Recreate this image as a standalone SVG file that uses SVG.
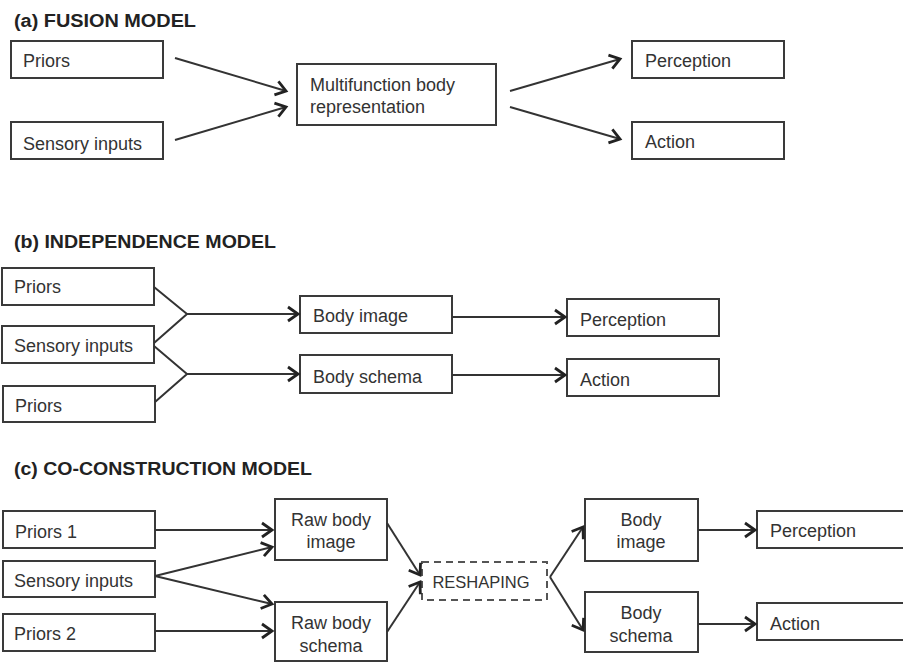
<svg xmlns="http://www.w3.org/2000/svg" width="903" height="662" viewBox="0 0 903 662">
<style>
.box{fill:#fff;stroke:#3a3a3a;stroke-width:2}
.dash{fill:#fff;stroke:#555;stroke-width:2;stroke-dasharray:7 5}
.t{font-family:"Liberation Sans",Arial,sans-serif;font-size:18px;fill:#333}
.c{text-anchor:middle}
.title{font-family:"Liberation Sans",Arial,sans-serif;font-size:18px;font-weight:bold;fill:#222}
.ln{fill:none;stroke:#333;stroke-width:2}
.ar{fill:none;stroke:#333;stroke-width:2;marker-end:url(#ah)}
</style>
<defs>
<marker id="ah" markerUnits="userSpaceOnUse" viewBox="-12 -8 14 16" refX="0" refY="0" markerWidth="14" markerHeight="16" orient="auto" overflow="visible">
<path d="M-10,-7 L0,0 L-10,7" fill="none" stroke="#222" stroke-width="2.8" stroke-linejoin="miter"/>
</marker>
</defs>
<rect width="903" height="662" fill="#fff"/>

<text class="title" x="14" y="27" textLength="182" lengthAdjust="spacingAndGlyphs">(a) FUSION MODEL</text>
<text class="title" x="14" y="248" textLength="262" lengthAdjust="spacingAndGlyphs">(b) INDEPENDENCE MODEL</text>
<text class="title" x="14" y="475" textLength="298" lengthAdjust="spacingAndGlyphs">(c) CO-CONSTRUCTION MODEL</text>

<g id="a-priors"><rect class="box" x="11" y="41" width="152" height="37"/><text class="t" x="23" y="67">Priors</text></g>
<g id="a-sensory"><rect class="box" x="11" y="122" width="152" height="37"/><text class="t" x="23" y="150">Sensory inputs</text></g>
<g id="a-multi"><rect class="box" x="297" y="64" width="199" height="61"/><text class="t" x="310" y="91">Multifunction body</text><text class="t" x="310" y="113">representation</text></g>
<g id="a-perception"><rect class="box" x="632" y="41" width="152" height="37"/><text class="t" x="645" y="67">Perception</text></g>
<g id="a-action"><rect class="box" x="632" y="122" width="152" height="37"/><text class="t" x="645" y="148">Action</text></g>

<g id="b-priors1"><rect class="box" x="2" y="268" width="152" height="37"/><text class="t" x="14" y="293">Priors</text></g>
<g id="b-sensory"><rect class="box" x="2" y="326" width="152" height="37"/><text class="t" x="14" y="352">Sensory inputs</text></g>
<g id="b-priors2"><rect class="box" x="3" y="386" width="152" height="36"/><text class="t" x="15" y="412">Priors</text></g>
<g id="b-bodyimage"><rect class="box" x="300" y="296" width="152" height="37"/><text class="t" x="313" y="322">Body image</text></g>
<g id="b-bodyschema"><rect class="box" x="300" y="355" width="152" height="38"/><text class="t" x="313" y="383">Body schema</text></g>
<g id="b-perception"><rect class="box" x="567" y="299" width="152" height="37"/><text class="t" x="580" y="326">Perception</text></g>
<g id="b-action"><rect class="box" x="567" y="359" width="152" height="37"/><text class="t" x="580" y="386">Action</text></g>

<g id="c-priors1"><rect class="box" x="3" y="511" width="152" height="37"/><text class="t" x="15" y="538">Priors 1</text></g>
<g id="c-sensory"><rect class="box" x="3" y="561" width="152" height="36"/><text class="t" x="14" y="587">Sensory inputs</text></g>
<g id="c-priors2"><rect class="box" x="3" y="614" width="152" height="37"/><text class="t" x="14" y="640">Priors 2</text></g>
<g id="c-rawimage"><rect class="box" x="275" y="499" width="112" height="61"/><text class="t c" x="331" y="526">Raw body</text><text class="t c" x="331" y="548">image</text></g>
<g id="c-rawschema"><rect class="box" x="275" y="602" width="112" height="59"/><text class="t c" x="331" y="629">Raw body</text><text class="t c" x="331" y="652">schema</text></g>
<g id="c-reshaping"><rect class="dash" x="422" y="562" width="125" height="38"/><text class="t c" x="481" y="588" style="font-size:16.5px">RESHAPING</text></g>
<g id="c-bodyimage"><rect class="box" x="585" y="499" width="113" height="62"/><text class="t c" x="641" y="526">Body</text><text class="t c" x="641" y="548">image</text></g>
<g id="c-bodyschema"><rect class="box" x="585" y="592" width="113" height="60"/><text class="t c" x="641" y="619">Body</text><text class="t c" x="641" y="642">schema</text></g>
<g id="c-perception"><rect class="box" x="757" y="511" width="160" height="37"/><text class="t" x="770" y="537">Perception</text></g>
<g id="c-action"><rect class="box" x="757" y="603" width="160" height="37"/><text class="t" x="770" y="630">Action</text></g>

<g id="connectors">
<line class="ar" x1="175" y1="58" x2="286" y2="91"/>
<line class="ar" x1="175" y1="140" x2="286" y2="107"/>
<line class="ar" x1="510" y1="91" x2="620" y2="59"/>
<line class="ar" x1="510" y1="107" x2="620" y2="139"/>

<polyline class="ln" points="154,287 187,314 154,343"/>
<line class="ar" x1="187" y1="314" x2="298" y2="314"/>
<polyline class="ln" points="154,346 187,374 155,402"/>
<line class="ar" x1="187" y1="374" x2="298" y2="374"/>
<line class="ar" x1="452" y1="317" x2="565" y2="317"/>
<line class="ar" x1="452" y1="375" x2="565" y2="375"/>

<line class="ar" x1="155" y1="530" x2="272" y2="530"/>
<line class="ar" x1="155" y1="576" x2="272" y2="547"/>
<line class="ar" x1="155" y1="576" x2="272" y2="604"/>
<line class="ar" x1="155" y1="631" x2="272" y2="631"/>
<line class="ar" x1="387" y1="523" x2="420" y2="575"/>
<line class="ar" x1="387" y1="632" x2="420" y2="582"/>
<line class="ar" x1="550" y1="577" x2="583" y2="527"/>
<line class="ar" x1="550" y1="577" x2="583" y2="630"/>
<line class="ar" x1="698" y1="530" x2="755" y2="530"/>
<line class="ar" x1="698" y1="624" x2="755" y2="624"/>
</g>
</svg>
